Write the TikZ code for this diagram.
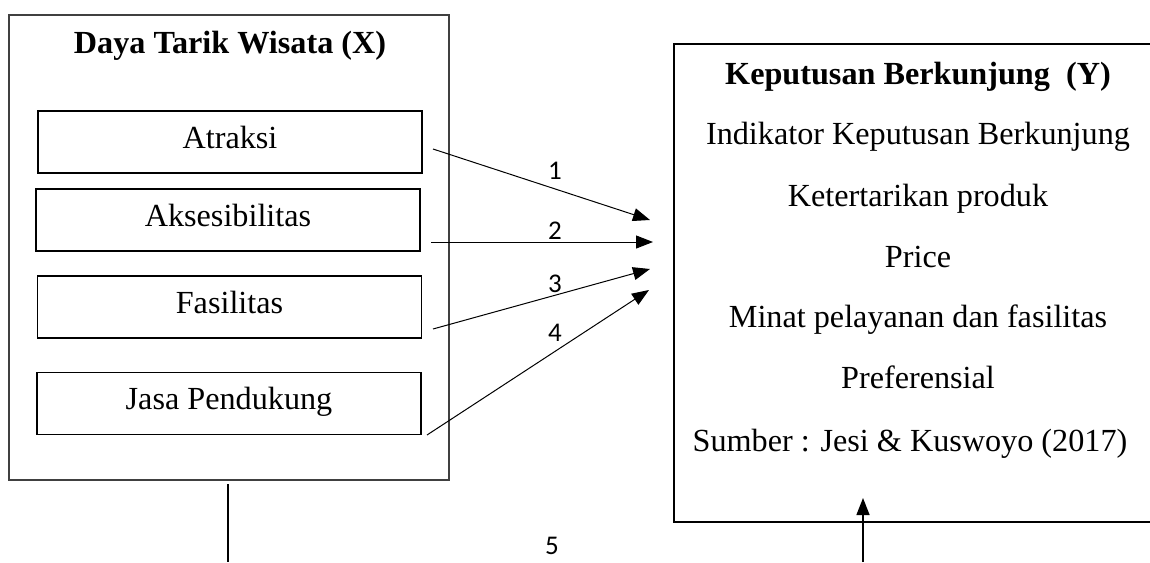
\documentclass[tikz,border=0pt]{standalone}
\usepackage{fontspec}
\setmainfont{Liberation Serif}
\newfontfamily\angkafont{Carlito}
\usetikzlibrary{arrows.meta,positioning}
\tikzset{
  indbox/.style={draw,line width=0.85pt,minimum width=192pt,minimum height=31pt,
                 inner sep=0pt,text height=10.5pt,text depth=4.5pt,font=\fontsize{16.1}{18}\selectfont},
  teksy/.style={anchor=base,font=\fontsize{16.1}{18}\selectfont},
  panah/.style={-{Triangle[length=8.5pt,width=6.5pt]},line width=0.5pt},
  angka/.style={font=\angkafont\fontsize{13.5}{15}\selectfont}
}
\begin{document}
\begin{tikzpicture}[x=0.5pt,y=-0.5pt]
  \useasboundingbox (0,0) rectangle (1150,562);
  % variabel X
  \draw[line width=0.6pt,black!75](9,15) rectangle (449,480);
  \node[teksy] (judulx) at (230,53){\bfseries Daya Tarik Wisata (X)};
  \node[indbox] (atraksi) at (230,142){Atraksi};
  \node[indbox] (akses) at (228,220){Aksesibilitas};
  \node[indbox] (fasilitas) at (229.5,307){Fasilitas};
  \node[indbox] (jasa) at (229,403.5){Jasa Pendukung};
  % variabel Y
  \draw[line width=1pt](1150,44)--(674,44)--(674,522)--(1150,522);
  \node[teksy] (juduly) at (918,84){\bfseries Keputusan Berkunjung~ (Y)};
  \node[teksy] (indik) at (918,144){Indikator Keputusan Berkunjung};
  \node[teksy] (produk) at (918,206){Ketertarikan produk};
  \node[teksy] (price) at (918,267){Price};
  \node[teksy] (minat) at (918,327){Minat pelayanan dan fasilitas};
  \node[teksy] (pref) at (918,388){Preferensial};
  \node[teksy] (sumber) at (910,451){Sumber : Jesi \& Kuswoyo (2017)};
  % panah
  \coordinate (a1) at (433,149); \coordinate (b1) at (650,220);
  \coordinate (a2) at (431,242); \coordinate (b2) at (653,242);
  \coordinate (a3) at (433,329); \coordinate (b3) at (650,269);
  \coordinate (a4) at (427,435); \coordinate (b4) at (649,290);
  \foreach \i in {1,...,4}{\draw[panah](a\i)--(b\i);}
  \node[angka] (n1) at (555,171){1};
  \node[angka] (n2) at (555,231){2};
  \node[angka] (n3) at (555,284){3};
  \node[angka] (n4) at (555,333){4};
  \coordinate (xbawah) at (228,562); \coordinate (xatas) at (228,484);
  \draw[line width=0.6pt](xatas)--(xbawah);
  \coordinate (ybawah) at (863,562); \coordinate (yatas) at (863,498);
  \draw[panah,line width=0.7pt](ybawah)--(yatas);
  \node[angka,inner sep=0pt] (n5) at (552,546){5};
\end{tikzpicture}
\end{document}
